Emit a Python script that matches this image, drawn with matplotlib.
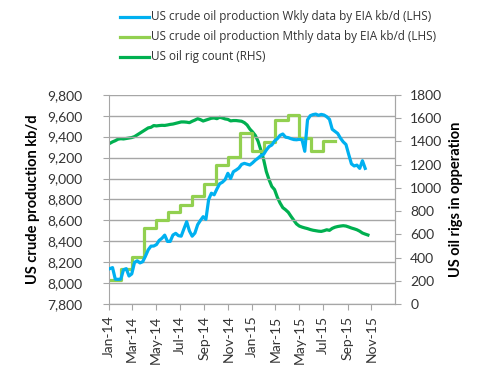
import numpy as np
import pandas as pd
import matplotlib
matplotlib.use("Agg")
import matplotlib.pyplot as plt
import matplotlib.dates as mdates
from matplotlib.lines import Line2D
from matplotlib.ticker import FuncFormatter, MultipleLocator

plt.rcParams['font.family'] = ['Lato', 'DejaVu Sans']

# weekly production, kb/d (LHS), from first Friday of 2014
wkly_start = "2014-01-03"
wkly_prod = [8140, 8150, 8040, 8038, 8040, 8130, 8140, 8070, 8090, 8200,
             8215, 8195, 8207, 8260, 8320, 8355, 8356, 8370, 8410, 8430,
             8460, 8400, 8400, 8461, 8477, 8455, 8450, 8520, 8588, 8500,
             8450, 8480, 8560, 8600, 8636, 8610, 8800, 8860, 8845, 8900,
             8950, 8965, 8990, 9050, 9000, 9065, 9081, 9100, 9135, 9145,
             9137, 9129, 9150, 9175, 9195, 9218, 9230, 9272, 9305, 9320,
             9358, 9380, 9412, 9425, 9395, 9390, 9380, 9372, 9370, 9374,
             9370, 9260, 9560, 9600, 9610, 9615, 9603, 9612, 9606, 9590,
             9565, 9470, 9450, 9430, 9385, 9350, 9325, 9230, 9140, 9120,
             9128, 9097, 9170, 9097]

# monthly production, kb/d (LHS), Jan-14 .. Jul-15
mthly_prod = [8030, 8135, 8255, 8530, 8605, 8678, 8745, 8835, 8950, 9127,
              9207, 9432, 9263, 9348, 9560, 9606, 9384, 9263, 9361]
mthly_end = "2015-07-31"

# weekly oil rig count (RHS)
rigs = [1382, 1395, 1405, 1418, 1422, 1420, 1424, 1428, 1432, 1440,
        1455, 1470, 1485, 1500, 1515, 1520, 1535, 1532, 1535, 1537,
        1536, 1540, 1545, 1548, 1554, 1560, 1566, 1566, 1564, 1560,
        1572, 1582, 1594, 1586, 1574, 1582, 1590, 1598, 1600, 1594,
        1606, 1600, 1592, 1588, 1575, 1578, 1578, 1575, 1572, 1560,
        1540, 1505, 1480, 1450, 1400, 1325, 1245, 1140, 1070, 1012,
        985, 920, 870, 830, 812, 790, 755, 722, 690, 672,
        663, 656, 650, 642, 636, 632, 628, 626, 632, 640,
        635, 652, 662, 668, 672, 675, 672, 664, 655, 648,
        640, 628, 612, 603, 595]

lbl_wkly = "US crude oil production Wkly data by EIA kb/d (LHS)"
lbl_mthly = "US crude oil production Mthly data by EIA kb/d (LHS)"
lbl_rigs = "US oil rig count (RHS)"

wk_dates = pd.date_range(wkly_start, periods=len(wkly_prod), freq="7D")
rig_dates = pd.date_range(wkly_start, periods=len(rigs), freq="7D")
mo_dates = list(pd.date_range("2014-01-01", periods=len(mthly_prod), freq="MS")) + [pd.Timestamp(mthly_end)]
mo_vals = mthly_prod + [mthly_prod[-1]]

blue = "#00B0F0"
lgreen = "#92D050"
dgreen = "#00B050"
axcol = "#A6A6A6"
txtcol = "#333333"

W, H = 482, 374
fig = plt.figure(figsize=(W / 100, H / 100), dpi=100)
ax = fig.add_axes([109 / W, 1 - 304.3 / H, 286 / W, 209.6 / H])
ax2 = ax.twinx()

ax.plot(wk_dates, wkly_prod, color=blue, lw=2.3, zorder=3)
ax.plot(mo_dates, mo_vals, color=lgreen, lw=2.3, drawstyle="steps-post", zorder=2)
ax2.plot(rig_dates, rigs, color=dgreen, lw=2.3)

ax.set_zorder(ax2.get_zorder() + 1)
ax.patch.set_visible(False)

ax.set_xlim(pd.Timestamp("2014-01-01"), pd.Timestamp("2015-12-31"))
ax.set_ylim(7800, 9800)
ax.yaxis.set_major_locator(MultipleLocator(200))
ax.yaxis.set_major_formatter(FuncFormatter(lambda v, p: f"{v:,.0f}"))
ax2.set_ylim(0, 1800)
ax2.yaxis.set_major_locator(MultipleLocator(200))

ax.xaxis.set_major_locator(mdates.MonthLocator(bymonth=[1, 3, 5, 7, 9, 11]))
ax.xaxis.set_major_formatter(mdates.DateFormatter("%b-%y"))
for t in ax.get_xticklabels():
    t.set_rotation(90)

ax.grid(axis="y", color=axcol, lw=1)
ax.set_axisbelow(True)
for a in (ax, ax2):
    a.spines["top"].set_visible(False)
    for s in ("left", "right", "bottom"):
        a.spines[s].set_color(axcol)
    a.tick_params(colors=axcol, labelcolor=txtcol, labelsize=10, length=4)
ax2.spines["left"].set_visible(False)
ax.tick_params(axis="y", pad=15)
ax.tick_params(axis="x", pad=4)
ax2.tick_params(axis="y", pad=7)

ax.set_ylabel("US crude production kb/d", fontsize=10.5, fontweight="bold", labelpad=5, color="black")
ax2.set_ylabel("US oil rigs in opperation", fontsize=10.5, fontweight="bold", labelpad=5, color="black")

# legend drawn by hand to match the Excel layout
for y, c, lbl in [(16.7, blue, lbl_wkly), (36.5, lgreen, lbl_mthly), (56.7, dgreen, lbl_rigs)]:
    fig.add_artist(Line2D([120 / W, 149 / W], [1 - y / H] * 2, color=c, lw=2.3))
    fig.text(151 / W, 1 - y / H, lbl, fontsize=8.5, va="center", ha="left",
             family=["Open Sans", "DejaVu Sans"], color=txtcol)

fig.savefig("out.png", dpi=100)
